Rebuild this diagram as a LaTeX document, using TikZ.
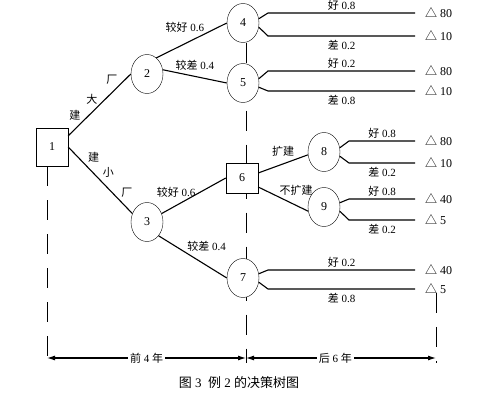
\documentclass[tikz,border=0pt]{standalone}
\usepackage{fontspec}
\setmainfont{Liberation Serif}
\newfontfamily\cjk{Noto Sans CJK SC}
\newcommand{\zh}[1]{{\cjk #1}}
\usetikzlibrary{arrows.meta, shapes.geometric, backgrounds}

\begin{document}
\begin{tikzpicture}[x=1pt, y=-1pt,
  decision/.style={draw, rectangle, minimum width=32pt, minimum height=38pt, inner sep=0pt, fill=white, font=\fontsize{12}{13}\selectfont},
  chance/.style={draw, ellipse, minimum width=32pt, minimum height=39pt, inner sep=0pt, fill=white, font=\fontsize{12}{13}\selectfont},
  edge/.style={line width=1.1pt},
  lbl/.style={inner sep=1pt, font=\fontsize{11}{12}\selectfont},
  payoff/.style={anchor=west, inner sep=0pt, font=\fontsize{12}{13}\selectfont},
  guide/.style={line width=0.9pt, dash pattern=on 20pt off 14pt},
  >={Latex[length=8pt, width=5pt]}
]
\useasboundingbox (0,0) rectangle (483,401);

% decision and chance nodes
\node[decision] (d1) at (52,147) {1};
\node[chance] (c2) at (147,74) {2};
\node[chance] (c3) at (147,222) {3};
\node[chance] (c4) at (243,23) {4};
\node[chance] (c5) at (243,83) {5};
\node[decision, minimum height=30pt] (d6) at (242,178) {6};
\node[chance] (c7) at (243,278) {7};
\node[chance] (c8) at (324,152) {8};
\node[chance] (c9) at (324,207) {9};

% first stage
\draw[edge] ([yshift=-8pt]d1.north east) -- node[pos=.22, above left, lbl] {\zh{建}}
  node[pos=.49, above left, lbl] {\zh{大}} node[pos=.81, above left, lbl] {\zh{厂}} (c2.west);
\draw[edge] (d1.east) -- node[pos=.27, above right, lbl, inner sep=2pt] {\zh{建}}
  node[pos=.5, above right, lbl, inner sep=2pt] {\zh{小}} node[pos=.79, above right, lbl, inner sep=2pt] {\zh{厂}} (c3.150);
\draw[edge] (c2.60) -- node[pos=.7, above left, lbl] {\zh{较好} 0.6} (c4.west);
\draw[edge] (c2.15) -- node[midway, above=4pt, lbl] {\zh{较差} 0.4} (c5.west);
\draw[edge] (c3.30) -- node[pos=.55, left, lbl, yshift=2pt] {\zh{较好} 0.6} (d6.west);
\draw[edge] (c3.-50) -- node[pos=.4, above right, lbl] {\zh{较差} 0.4} (c7.west);
\draw[edge] ([yshift=5pt]d6.east) -- node[midway, above=6pt, lbl] {\zh{扩建}} (c8.190);
\draw[edge] ([yshift=-9pt]d6.east) -- node[pos=.4, above right, lbl] {\zh{不扩建}} (c9.195);

% outcomes
\foreach \cn/\ya/\yb/\pa/\pb/\va/\vb in {c4/13/36/0.8/0.2/80/10, c5/71/91/0.2/0.8/80/10,
    c8/141/163/0.8/0.2/80/10, c9/199/220/0.8/0.2/40/5, c7/270/289/0.2/0.8/40/5}{
  \node[payoff] (\cn up) at (425,\ya) {\zh{△} \va};
  \node[payoff] (\cn dn) at (425,\yb) {\zh{△} \vb};
  \draw[edge] (\cn.15) -- ([xshift=25pt]\cn.center |- \cn up.west)
    -- node[midway, above=1pt, lbl] {\zh{好} \pa} ([xshift=-10pt]\cn up.west);
  \draw[edge] (\cn.-15) -- ([xshift=25pt]\cn.center |- \cn dn.west)
    -- node[midway, below=3pt, lbl] {\zh{差} \pb} ([xshift=-10pt]\cn dn.west);
}

% time spans
\coordinate (span1) at (47,358);
\coordinate (span2) at (246,358);
\coordinate (span3) at (436,358);
\begin{scope}[on background layer]
  \draw[guide] ([xshift=-5pt]d1.south) -- (47,363);
  \draw[guide] ([xshift=3pt]c4.south) -- (246,363);
  \draw[guide] (436,293) -- (436,363);
\end{scope}
\draw[edge, <->] (span1) -- node[fill=white, lbl, inner sep=2pt] {\zh{前} 4 \zh{年}} (span2);
\draw[edge, <->] (span2) -- node[pos=.47, fill=white, lbl, inner sep=2pt] {\zh{后} 6 \zh{年}} (span3);

\node[font=\fontsize{13}{15}\selectfont] (caption) at (239,383) {\zh{图}~3~~\zh{例}~2~\zh{的决策树图}};
\end{tikzpicture}
\end{document}
